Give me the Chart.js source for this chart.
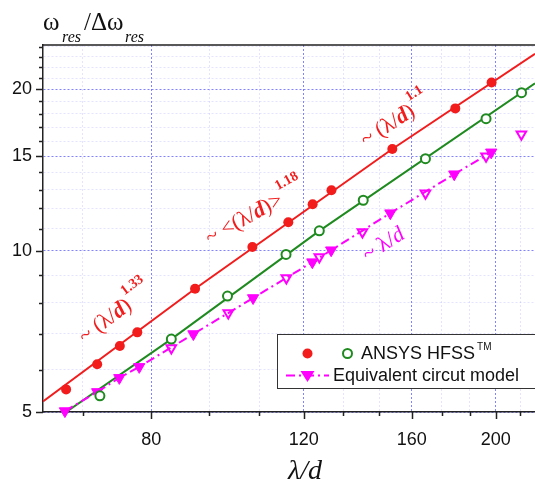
<!DOCTYPE html>
<html>
<head>
<meta charset="utf-8">
<script src="https://cdn.jsdelivr.net/npm/chart.js@4.4.1/dist/chart.umd.min.js"></script>
<style>
  html, body { margin: 0; padding: 0; background: #fff; }
  #wrap { width: 535px; height: 484px; }
</style>
</head>
<body>
<div id="wrap"><canvas id="chart" width="535" height="484"></canvas></div>
<script>
// Axis ticks (log-log)
const xMajorTicks = [80, 120, 160, 200];
const xMinorTicks = [66.67, 93.33, 106.67, 133.33, 146.67, 173.33, 186.67, 213.33];
const yMajorTicks = [5, 10, 15, 20];
const yMinorTicks = [6, 7, 8, 9, 11, 12, 13, 14, 16, 17, 18, 19, 21, 22, 23, 24];

// ANSYS HFSS - red filled dots
const redX = [63.8, 69.3, 73.6, 77.1, 89.9, 104.7, 115.2, 122.9, 129.2, 151.9, 179.6, 197.8];
const redY = [5.51, 6.14, 6.64, 7.04, 8.49, 10.16, 11.30, 12.21, 12.96, 15.48, 18.43, 20.6];
// ANSYS HFSS - green open circles
const greenX = [69.8, 84.4, 98.0, 114.5, 125.1, 140.6, 165.9, 194.9, 214.2];
const greenY = [5.36, 6.84, 8.23, 9.84, 10.89, 12.42, 14.85, 17.63, 19.72];
// Equivalent circuit model - filled / open triangles
const circuitAX = [63.6, 69.3, 73.5, 77.5, 89.5, 104.9, 122.8, 129.1, 151.1, 179.1, 197.6];
const circuitAY = [5.02, 5.45, 5.79, 6.07, 6.99, 8.16, 9.52, 10.02, 11.75, 13.89, 15.26];
const circuitBX = [84.4, 98.2, 114.6, 125.1, 140.3, 165.9, 194.9, 214.1];
const circuitBY = [6.58, 7.65, 8.89, 9.73, 10.83, 12.8, 15.0, 16.49];
// fitted curves
const redFitX = [60, 89.9, 151.9, 222];
const redFitY = [5.23, 8.49, 15.48, 23.3];
const greenFitX = [63.8, 84.4, 125.1, 222];
const greenFitY = [5.0, 6.84, 10.89, 20.52];

const RED = '#f21c1c';
const GREEN = '#1f8a1f';
const MAGENTA = '#ff00ff';

const toPts = (xs, ys) => xs.map((x, i) => ({ x: x, y: ys[i] }));
const xAllTicks = xMajorTicks.concat(xMinorTicks).sort((a, b) => a - b);
const yAllTicks = yMajorTicks.concat(yMinorTicks).sort((a, b) => a - b);

const gridColor = (majors) => (ctx) =>
    ctx.tick && majors.includes(ctx.tick.value) ? 'rgba(90,90,255,0.75)' : 'rgba(130,130,255,0.22)';

// mixed-style rotated text
function drawParts(ctx, x, y, angle, color, parts) {
    ctx.save();
    ctx.translate(x, y);
    ctx.rotate(-angle * Math.PI / 180);
    ctx.fillStyle = color;
    ctx.textBaseline = 'alphabetic';
    ctx.textAlign = 'left';
    let cx = 0;
    parts.forEach(p => {
        ctx.font = p.font;
        ctx.fillText(p.text, cx, p.dy || 0);
        cx += ctx.measureText(p.text).width + (p.gap || 0);
    });
    ctx.restore();
}

const serif = "'Liberation Serif', 'Times New Roman', serif";
const N22 = '22px ' + serif;
const D22 = 'italic bold 22px ' + serif;
const SUP = 'bold 14px ' + serif;

const decorPlugin = {
    id: 'decor',
    afterDraw(chart) {
        const ctx = chart.ctx;
        const area = chart.chartArea;
        const xs = chart.scales.x;
        const ys = chart.scales.y;

        // tick marks
        ctx.save();
        ctx.strokeStyle = '#222';
        ctx.lineWidth = 1.5;
        ctx.beginPath();
        xAllTicks.forEach(v => {
            const px = Math.round(xs.getPixelForValue(v)) + 0.5;
            const len = xMajorTicks.includes(v) ? 7 : 4;
            ctx.moveTo(px, area.bottom);
            ctx.lineTo(px, area.bottom + len);
        });
        yAllTicks.forEach(v => {
            const py = Math.round(ys.getPixelForValue(v)) + 0.5;
            const len = yMajorTicks.includes(v) ? 7 : 4;
            ctx.moveTo(area.left, py);
            ctx.lineTo(area.left - len, py);
        });
        // top frame
        ctx.moveTo(area.left, area.top);
        ctx.lineTo(area.right, area.top);
        ctx.stroke();
        ctx.restore();

        // y title: ω_res / Δω_res
        ctx.save();
        ctx.fillStyle = '#111';
        ctx.textBaseline = 'alphabetic';
        ctx.font = '25px ' + serif;
        ctx.fillText('ω', 43, 30);
        ctx.font = 'italic 16px ' + serif;
        ctx.fillText('res', 62, 42);
        ctx.font = '25px ' + serif;
        ctx.fillText('/Δω', 84, 30);
        ctx.font = 'italic 16px ' + serif;
        ctx.fillText('res', 125, 42);
        // x title
        ctx.font = 'italic 28px ' + serif;
        ctx.textAlign = 'center';
        ctx.fillText('λ/d', 305, 479);
        ctx.restore();

        // annotations
        drawParts(ctx, 85, 344, 37, RED, [
            { text: '~ (λ/', font: N22 }, { text: 'd', font: D22 }, { text: ')', font: N22, gap: 1 },
            { text: '1.33', font: SUP, dy: -15 }
        ]);
        drawParts(ctx, 210, 245, 29, RED, [
            { text: '~ <(λ/', font: N22 }, { text: 'd', font: D22 }, { text: ')>', font: N22, gap: 1 },
            { text: '1.18', font: SUP, dy: -15 }
        ]);
        drawParts(ctx, 366, 147, 33, RED, [
            { text: '~ (λ/', font: N22 }, { text: 'd', font: D22 }, { text: ')', font: N22, gap: 1 },
            { text: '1.1', font: SUP, dy: -15 }
        ]);
        drawParts(ctx, 368, 262, 33, MAGENTA, [
            { text: '~ λ/', font: N22 }, { text: 'd', font: 'italic 22px ' + serif }
        ]);

        // legend
        ctx.save();
        ctx.fillStyle = '#fff';
        ctx.fillRect(277.5, 334.5, 258, 54);
        ctx.strokeStyle = '#333';
        ctx.lineWidth = 1;
        ctx.strokeRect(277.5, 334.5, 258, 54);

        ctx.fillStyle = RED;
        ctx.beginPath();
        ctx.arc(307.5, 353.5, 5, 0, Math.PI * 2);
        ctx.fill();
        ctx.strokeStyle = GREEN;
        ctx.lineWidth = 2;
        ctx.beginPath();
        ctx.arc(347.5, 353.5, 4.5, 0, Math.PI * 2);
        ctx.stroke();

        ctx.strokeStyle = MAGENTA;
        ctx.setLineDash([9, 4, 2, 4]);
        ctx.beginPath();
        ctx.moveTo(286, 375.5);
        ctx.lineTo(329, 375.5);
        ctx.stroke();
        ctx.setLineDash([]);
        ctx.fillStyle = MAGENTA;
        ctx.beginPath();
        ctx.moveTo(300.5, 371);
        ctx.lineTo(314.5, 371);
        ctx.lineTo(307.5, 382);
        ctx.closePath();
        ctx.fill();

        ctx.fillStyle = '#111';
        ctx.textBaseline = 'middle';
        ctx.font = "18px 'Liberation Sans', Arial, sans-serif";
        ctx.fillText('ANSYS HFSS', 361, 354);
        const w = ctx.measureText('ANSYS HFSS').width;
        ctx.font = "10px 'Liberation Sans', Arial, sans-serif";
        ctx.fillText('TM', 361 + w + 2, 347);
        ctx.font = "18px 'Liberation Sans', Arial, sans-serif";
        ctx.fillText('Equivalent circut model', 333, 376);
        ctx.restore();
    }
};

const ctx = document.getElementById('chart').getContext('2d');
new Chart(ctx, {
    type: 'scatter',
    data: {
        datasets: [
            {
                label: 'HFSS A',
                data: toPts(redX, redY),
                pointStyle: 'circle',
                pointRadius: 5,
                backgroundColor: RED,
                borderColor: RED,
                borderWidth: 0,
                order: 1
            },
            {
                label: 'HFSS B',
                data: toPts(greenX, greenY),
                pointStyle: 'circle',
                pointRadius: 4.5,
                backgroundColor: '#fff',
                borderColor: GREEN,
                borderWidth: 2,
                order: 2
            },
            {
                label: 'Equivalent circut model',
                data: toPts(circuitAX, circuitAY),
                showLine: true,
                borderDash: [9, 4, 2, 4],
                borderColor: MAGENTA,
                borderWidth: 2,
                pointStyle: 'triangle',
                pointRotation: 180,
                pointRadius: 6.5,
                pointBackgroundColor: MAGENTA,
                pointBorderColor: MAGENTA,
                pointBorderWidth: 1,
                clip: false,
                order: 3
            },
            {
                label: 'Circuit B',
                data: toPts(circuitBX, circuitBY),
                pointStyle: 'triangle',
                pointRotation: 180,
                pointRadius: 5.5,
                backgroundColor: '#fff',
                borderColor: MAGENTA,
                borderWidth: 2,
                clip: false,
                order: 4
            },
            {
                label: 'fit A',
                data: toPts(redFitX, redFitY),
                showLine: true,
                borderColor: RED,
                borderWidth: 2,
                pointRadius: 0,
                order: 5
            },
            {
                label: 'fit B',
                data: toPts(greenFitX, greenFitY),
                showLine: true,
                borderColor: GREEN,
                borderWidth: 2,
                pointRadius: 0,
                order: 6
            }
        ]
    },
    options: {
        responsive: false,
        animation: false,
        devicePixelRatio: 1,
        layout: { autoPadding: false, padding: { top: 45, left: 0, right: 0, bottom: 0 } },
        plugins: {
            legend: { display: false },
            tooltip: { enabled: false }
        },
        scales: {
            x: {
                type: 'logarithmic',
                min: 60,
                max: 222,
                afterBuildTicks: s => { s.ticks = xAllTicks.map(v => ({ value: v })); },
                afterFit: s => { s.height = 72; s.paddingLeft = 0; s.paddingRight = 0; },
                ticks: {
                    autoSkip: false,
                    maxRotation: 0,
                    minRotation: 0,
                    padding: 17,
                    color: '#111',
                    font: { family: "'Liberation Sans', Arial, sans-serif", size: 18 },
                    callback: v => xMajorTicks.includes(v) ? String(v) : ''
                },
                grid: { color: gridColor(xMajorTicks), lineWidth: 1, drawTicks: false },
                border: { color: '#222', width: 1.5, dash: [2, 2] }
            },
            y: {
                type: 'logarithmic',
                min: 5,
                max: 24.2,
                afterBuildTicks: s => { s.ticks = yAllTicks.map(v => ({ value: v })); },
                afterFit: s => { s.width = 43; s.paddingTop = 0; s.paddingBottom = 0; },
                ticks: {
                    autoSkip: false,
                    padding: 11,
                    color: '#111',
                    font: { family: "'Liberation Sans', Arial, sans-serif", size: 18 },
                    callback: v => yMajorTicks.includes(v) ? String(v) : ''
                },
                grid: { color: gridColor(yMajorTicks), lineWidth: 1, drawTicks: false },
                border: { color: '#222', width: 1.5, dash: [2, 2] }
            }
        }
    },
    plugins: [decorPlugin]
});
</script>
</body>
</html>
